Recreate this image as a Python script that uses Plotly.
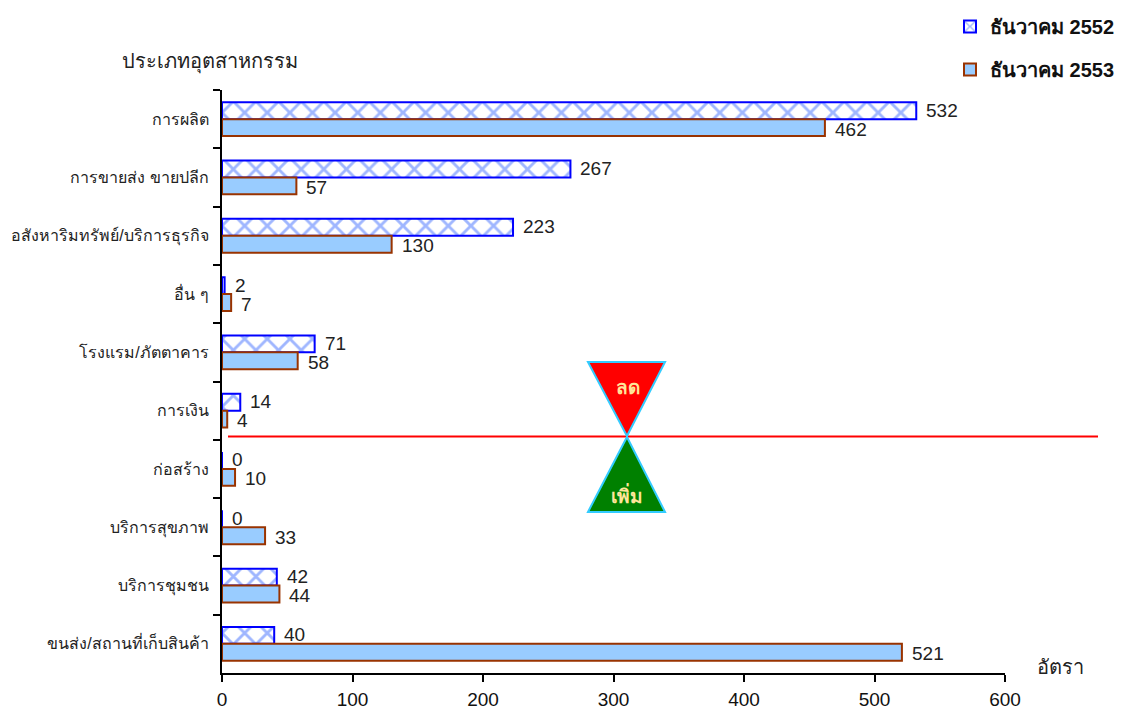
import plotly.graph_objects as go

categories = ["การผลิต", "การขายส่ง ขายปลีก", "อสังหาริมทรัพย์/บริการธุรกิจ", "อื่น ๆ",
              "โรงแรม/ภัตตาคาร", "การเงิน", "ก่อสร้าง", "บริการสุขภาพ",
              "บริการชุมชน", "ขนส่ง/สถานที่เก็บสินค้า"]
values_2552 = [532, 267, 223, 2, 71, 14, 0, 0, 42, 40]
values_2553 = [462, 57, 130, 7, 58, 4, 10, 33, 44, 521]
series_names = ["ธันวาคม 2552", "ธันวาคม 2553"]
x_ticks = [0, 100, 200, 300, 400, 500, 600]

FONT = "Liberation Sans, Noto Sans, DejaVu Sans, sans-serif"

OFF = 8  # default page body margin
PAGE_W, PAGE_H = 1125, 711
W, H = PAGE_W - OFF, PAGE_H - OFF
# plot area in page pixels: x 222..1005, y 90..673
L = 222 - OFF
T = 90 - OFF
R = W - (1005 - OFF)
B = H - (673 - OFF)
PW, PH = W - L - R, H - T - B


def px_x(p):
    return (p - OFF - L) / PW


def px_y(p):
    return (H - B - (p - OFF)) / PH


fig = go.Figure()
fig.add_trace(go.Bar(
    y=categories, x=values_2552, orientation="h", name="<b>" + series_names[0] + "</b>",
    legendgroup="a",
    marker=dict(color="white", line=dict(color="#0000ff", width=2),
                pattern=dict(shape="x", fgcolor="#3f6dff", bgcolor="white", size=16, solidity=0.33)),
))
fig.add_trace(go.Bar(
    y=categories, x=values_2553, orientation="h", name="<b>" + series_names[1] + "</b>",
    legendgroup="b",
    marker=dict(color="#99ccff", line=dict(color="#993300", width=2)),
))

annotations = []
for c, v in zip(categories, values_2552):
    annotations.append(dict(x=v, y=c, xref="x", yref="y", text=str(v), showarrow=False,
                            xanchor="left", yanchor="middle", xshift=8, yshift=9,
                            font=dict(size=19, color="#222222", family=FONT)))
for c, v in zip(categories, values_2553):
    annotations.append(dict(x=v, y=c, xref="x", yref="y", text=str(v), showarrow=False,
                            xanchor="left", yanchor="middle", xshift=8, yshift=-10,
                            font=dict(size=19, color="#222222", family=FONT)))

annotations.append(dict(x=px_x(210), y=px_y(62), xref="paper", yref="paper",
                        text="ประเภทอุตสาหกรรม", showarrow=False, xanchor="center", yanchor="middle",
                        font=dict(size=20, color="#222222", family=FONT)))
annotations.append(dict(x=px_x(1060), y=px_y(667), xref="paper", yref="paper",
                        text="อัตรา", showarrow=False, xanchor="center", yanchor="middle",
                        font=dict(size=20, color="#222222", family=FONT)))
annotations.append(dict(x=px_x(628), y=px_y(387), xref="paper", yref="paper",
                        text="<b>ลด</b>", showarrow=False, xanchor="center", yanchor="middle",
                        font=dict(size=19, color="#ffe699", family=FONT)))
annotations.append(dict(x=px_x(627), y=px_y(495), xref="paper", yref="paper",
                        text="<b>เพิ่ม</b>", showarrow=False, xanchor="center", yanchor="middle",
                        font=dict(size=19, color="#ffe699", family=FONT)))


def tri(points):
    s = "M " + " L ".join(f"{px_x(a):.4f},{px_y(b):.4f}" for a, b in points) + " Z"
    return s


shapes = [
    dict(type="line", xref="paper", yref="paper", x0=px_x(228), x1=px_x(1098),
         y0=px_y(436.5), y1=px_y(436.5), line=dict(color="#ff0000", width=2)),
    dict(type="path", xref="paper", yref="paper", path=tri([(588, 362), (665, 362), (627, 436)]),
         fillcolor="#ff0000", line=dict(color="#33ccff", width=2)),
    dict(type="path", xref="paper", yref="paper", path=tri([(627, 437), (665, 512), (588, 512)]),
         fillcolor="#008000", line=dict(color="#33ccff", width=2)),
]

fig.update_layout(
    width=W, height=H,
    margin=dict(l=L, r=R, t=T, b=B, autoexpand=False),
    paper_bgcolor="white", plot_bgcolor="white",
    barmode="group", bargap=0.42, bargroupgap=0,
    font=dict(family=FONT, size=16, color="#222222"),
    showlegend=True,
    legend=dict(x=px_x(950), y=px_y(7), xanchor="left", yanchor="top",
                font=dict(size=20, color="#111111", family=FONT),
                traceorder="grouped", tracegroupgap=14, bgcolor="rgba(0,0,0,0)"),
    annotations=annotations,
    shapes=shapes,
    xaxis=dict(range=[0, 600], tickvals=x_ticks, ticktext=[str(t) for t in x_ticks],
               showgrid=False, zeroline=False, showline=True, linecolor="black", linewidth=2,
               ticks="outside", ticklen=7, tickwidth=2, tickcolor="black", automargin=False,
               tickfont=dict(size=19, color="#111111"), ticklabelstandoff=1),
    yaxis=dict(autorange="reversed", type="category", showgrid=False, zeroline=False,
               showline=True, linecolor="black", linewidth=2, automargin=False,
               ticks="outside", ticklen=7, tickwidth=2, tickcolor="black", tickson="boundaries",
               tickfont=dict(size=16, color="#222222"), ticklabelstandoff=8),
)

fig.write_html("out.html")
